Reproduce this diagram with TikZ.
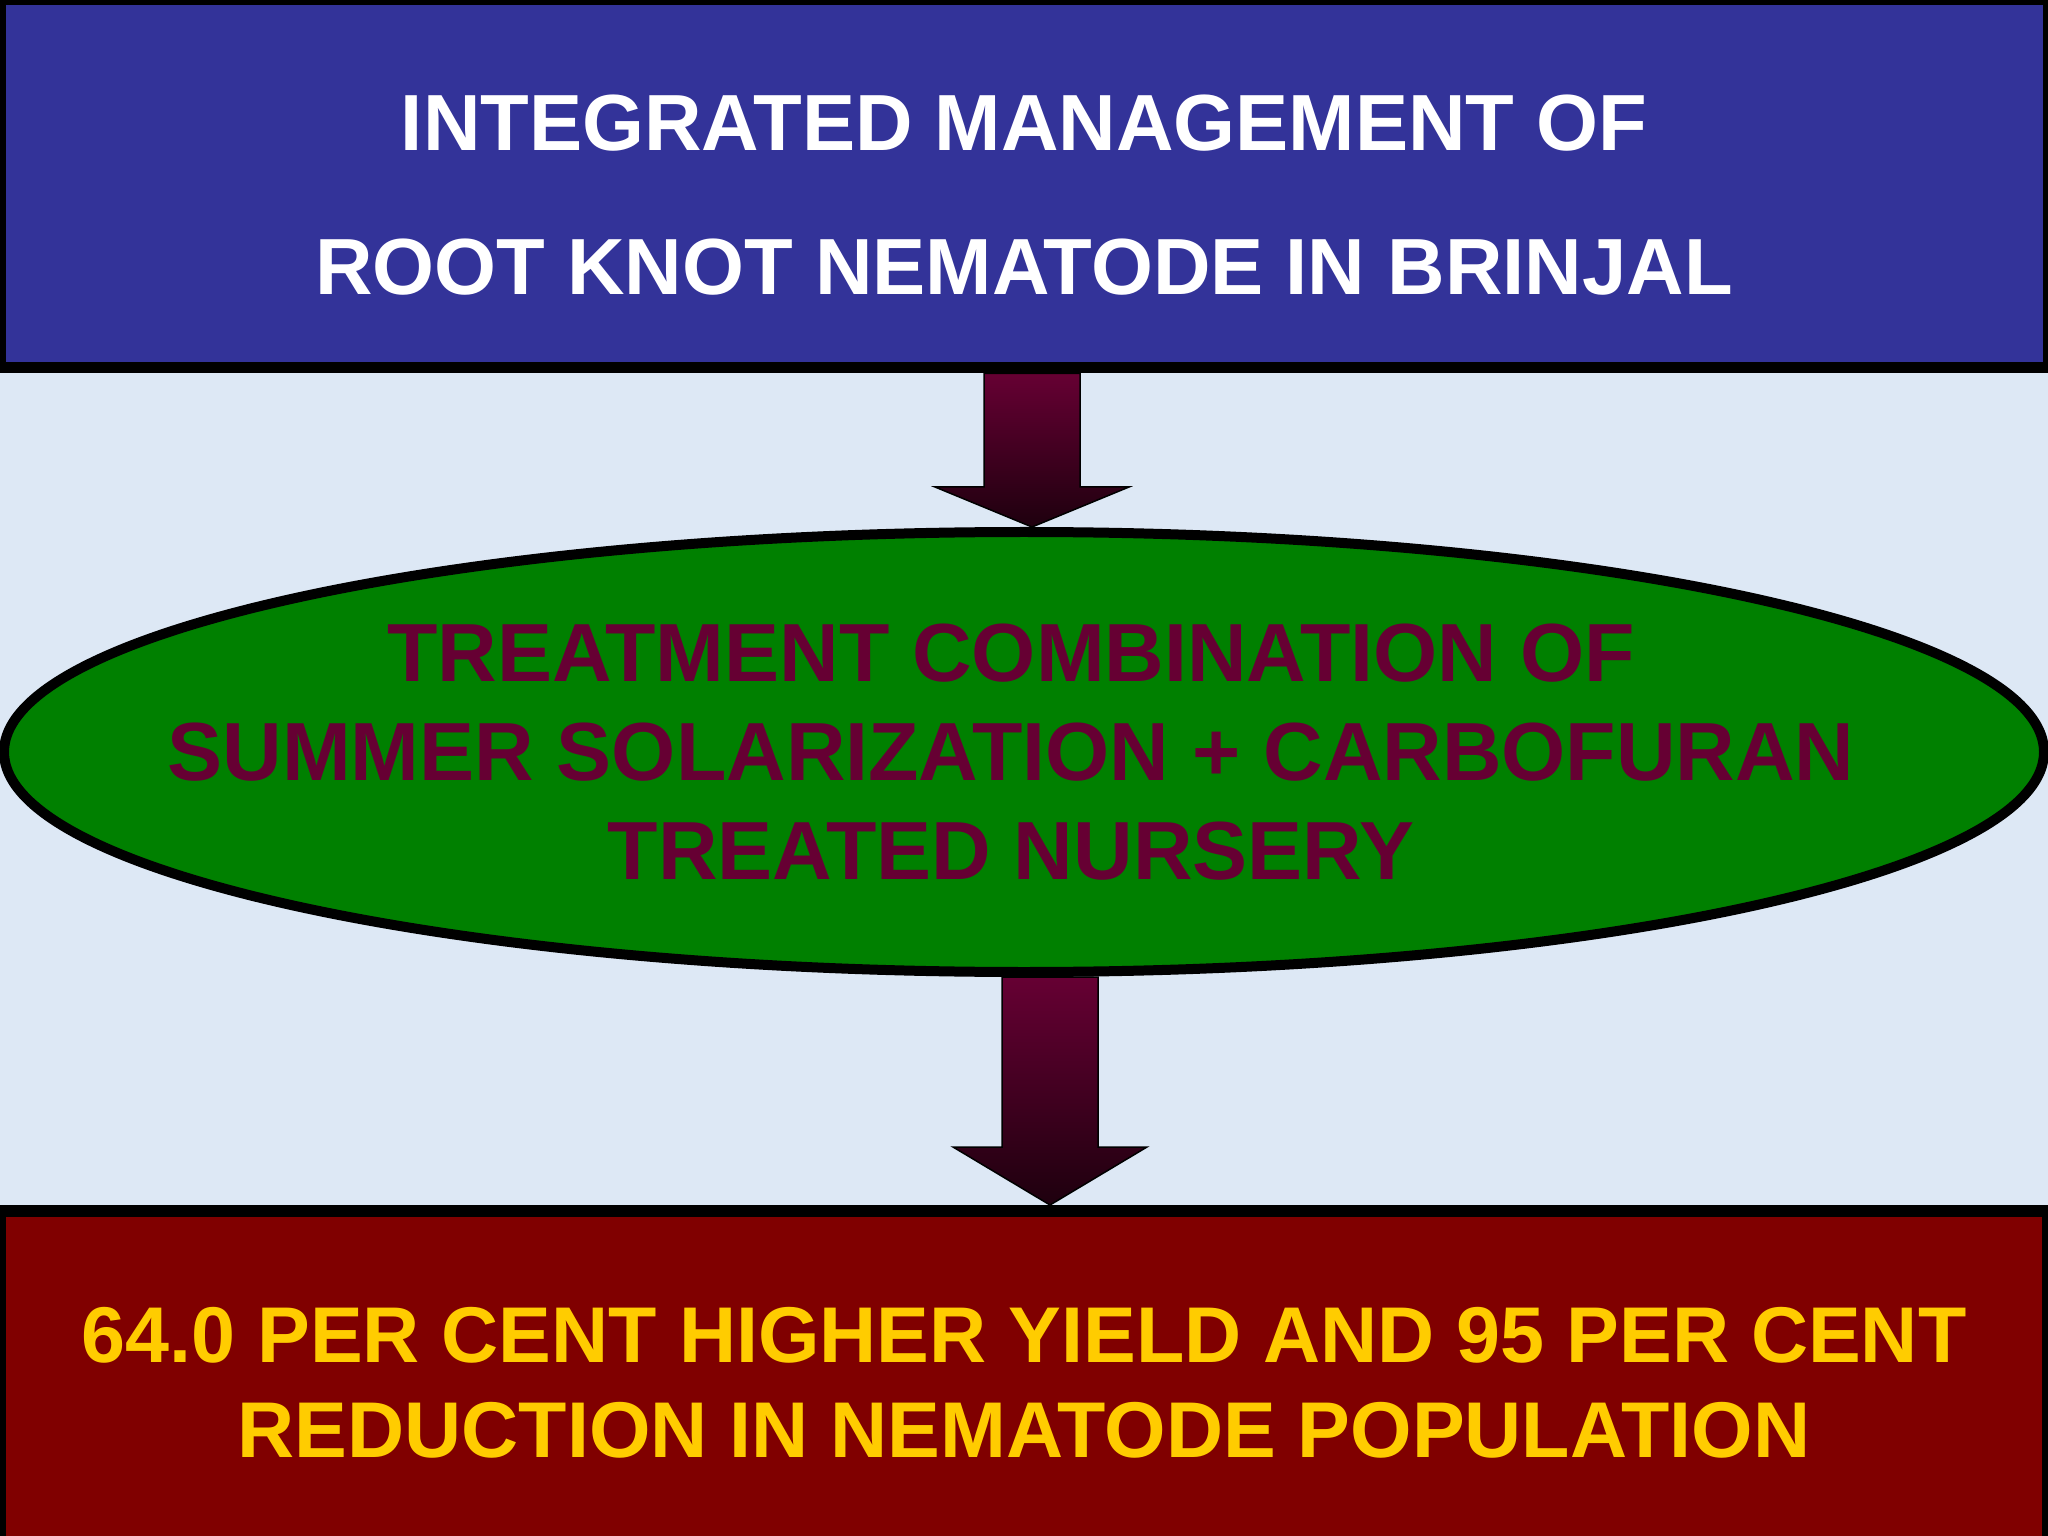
\documentclass[tikz,border=0pt]{standalone}
\usepackage{fontspec}
\setmainfont{Liberation Sans}
\usepackage{tikz}
\usetikzlibrary{calc,positioning,shapes.geometric}
\newdimen\pxu \pxu=0.3515625pt
\definecolor{slidebg}{HTML}{DDE8F5}
\definecolor{titleblue}{HTML}{333399}
\definecolor{ovalgreen}{HTML}{008000}
\definecolor{resultred}{HTML}{800000}
\definecolor{resultyellow}{HTML}{FFCC00}
\definecolor{plum}{HTML}{660033}
\definecolor{arrowtop}{HTML}{660033}
\definecolor{arrowbot}{HTML}{1E000E}
\tikzset{titlebox/.style={draw=black,fill=titleblue,rectangle,line width=11*\pxu,minimum
width=2048*\pxu,minimum height=368*\pxu,inner sep=0pt},titletext/.style={text=white,align=center,inner
sep=0pt,font=\fontsize{28}{50.6}\selectfont\bfseries},treatoval/.style={draw=black,fill=ovalgreen,ellipse,line
width=10*\pxu,minimum width=2040*\pxu,minimum height=440*\pxu,inner sep=0pt},treattext/.style={text=plum,align=center,inner
sep=0pt,font=\fontsize{29}{34.8}\selectfont\bfseries},resultbox/.style={draw=black,fill=resultred,rectangle,line
width=12*\pxu,minimum width=2048*\pxu,minimum height=350*\pxu,inner sep=0pt},resulttext/.style={text=resultyellow,align=center,inner
sep=0pt,font=\fontsize{27.8}{33.4}\selectfont\bfseries},arrowbody/.style={draw=black,line width=1.5*\pxu,line
join=miter,top color=arrowtop,bottom color=arrowbot}}
\newcommand{\blockarrow}[4]{%
	\path[arrowbody] ($(#1)+(#3-48,0)$) -- ($(#2)+(#3-48,-#4)$) -- ($(#2)+(#3-97,-#4)$) -- ($(#2)+(#3,0)$)
	-- ($(#2)+(#3+97,-#4)$) -- ($(#2)+(#3+48,-#4)$) -- ($(#1)+(#3+48,0)$) -- cycle;}

\begin{document}
\begin{tikzpicture}[x=\pxu,y=-\pxu]
		\fill[slidebg] (0,0) rectangle (2048,1536);
		\useasboundingbox (0,0) rectangle (2048,1536);
		\node[titlebox] (title) at (1024,184) {};
		\node[titletext] (titlet) at ($(title.center)+(0,11)$) {INTEGRATED MANAGEMENT OF\\ROOT KNOT NEMATODE IN BRINJAL};
		\node[treatoval] (treat) at (1024,752) {};
		\node[treattext] (treatt) at ($(treat.center)+(-13,0)$) {TREATMENT COMBINATION OF\\SUMMER SOLARIZATION + CARBOFURAN\\TREATED NURSERY};
		\node[resultbox] (result) at (1024,1386) {};
		\node[resulttext] (resultt) at ($(result.center)+(0,-3)$) {64.0 PER CENT HIGHER YIELD AND 95 PER CENT\\REDUCTION IN NEMATODE POPULATION};
		\blockarrow{title.south}{treat.north}{8}{40}
		\blockarrow{treat.south}{result.north}{26}{58}
	\end{tikzpicture}
\end{document}
